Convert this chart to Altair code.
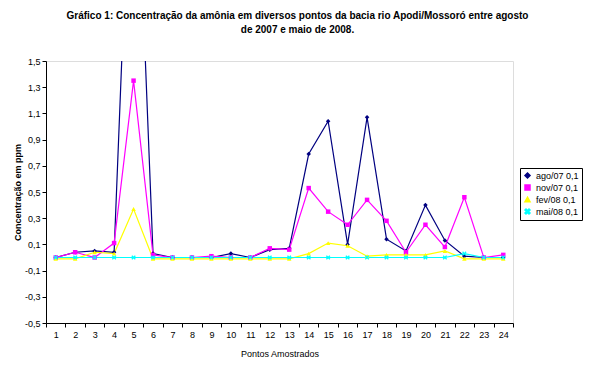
import altair as alt
import pandas as pd

pontos = list(range(1, 25))
ago07 = [0.0, 0.04, 0.05, 0.04, 3.77, 0.03, 0.0, 0.0, 0.0, 0.03, 0.0, 0.06,
         0.07, 0.79, 1.04, 0.10, 1.07, 0.14, 0.05, 0.40, 0.13, 0.01, 0.0, 0.0]
nov07 = [0.0, 0.04, 0.0, 0.11, 1.35, 0.02, 0.0, 0.0, 0.01, 0.0, 0.0, 0.07,
         0.06, 0.53, 0.35, 0.25, 0.44, 0.28, 0.04, 0.25, 0.08, 0.46, 0.0, 0.02]
fev08 = [-0.01, -0.01, 0.04, 0.03, 0.37, -0.01, -0.01, -0.01, -0.01, -0.01, -0.01, -0.01,
         -0.01, 0.03, 0.11, 0.09, 0.01, 0.02, 0.02, 0.02, 0.05, -0.01, -0.01, -0.01]
mai08 = [0.0, 0.0, 0.0, 0.0, 0.0, 0.0, 0.0, 0.0, 0.0, 0.0, 0.0, 0.0,
         0.0, 0.0, 0.0, 0.0, 0.0, 0.0, 0.0, 0.0, 0.0, 0.03, 0.0, 0.0]
series_names = ["ago/07 0,1", "nov/07 0,1", "fev/08 0,1", "mai/08 0,1"]
series_colors = ["#000080", "#FF00FF", "#FFFF00", "#00FFFF"]
x_cross = "M-1,-0.6L-0.6,-1L0,-0.4L0.6,-1L1,-0.6L0.4,0L1,0.6L0.6,1L0,0.4L-0.6,1L-1,0.6L-0.4,0Z"
series_shapes = ["diamond", "square", "triangle-up", x_cross]
y_ticks = [-0.5, -0.3, -0.1, 0.1, 0.3, 0.5, 0.7, 0.9, 1.1, 1.3, 1.5]

rows = []
for name, vals in zip(series_names, [ago07, nov07, fev08, mai08]):
    for p, v in zip(pontos, vals):
        rows.append({"ponto": p, "valor": v, "serie": name})
df = pd.DataFrame(rows)

FONT = "Liberation Sans"

x_enc = alt.X(
    "ponto:Q",
    scale=alt.Scale(domain=[0.5, 24.5], nice=False, zero=False),
    axis=alt.Axis(
        values=[i / 2 for i in range(1, 50)],
        labelExpr="datum.value % 1 === 0 ? datum.value : ''",
        tickOpacity={"condition": {"test": "datum.value % 1 !== 0", "value": 1}, "value": 0},
        grid=False, title="Pontos Amostrados", titleFontSize=9, titleFontWeight="normal",
        titlePadding=10, labelFontSize=9, labelFont=FONT, titleFont=FONT,
        labelColor="black", titleColor="black", domainColor="black", tickColor="black",
        tickSize=4, labelPadding=3, labelOverlap=False, labelFlush=False,
    ),
)
y_enc = alt.Y(
    "valor:Q",
    scale=alt.Scale(domain=[-0.5, 1.5], nice=False, zero=False),
    axis=alt.Axis(
        values=y_ticks,
        labelExpr="replace(replace(format(datum.value, '.1f'), '.', ','), '\u2212', '-')",
        grid=False, title="Concentração em ppm", titleFontSize=9, titleFontWeight="bold",
        labelFontSize=9, labelFont=FONT, titleFont=FONT, labelColor="black",
        titleColor="black", domainColor="black", tickColor="black", tickSize=4,
        labelPadding=2, titleX=-29, titleY=131, titleAlign="center", titleBaseline="middle",
    ),
)
color_scale = alt.Scale(domain=series_names, range=series_colors)
legend = alt.Legend(
    title=None, orient="none", legendX=474, legendY=107, strokeColor="black",
    fillColor="white", padding=3, labelFontSize=9, labelFont=FONT,
    labelColor="black", symbolSize=25, rowPadding=1, labelOffset=4)

lines = alt.Chart(df).mark_line(clip=True, strokeWidth=1.2).encode(
    x=x_enc, y=y_enc,
    color=alt.Color("serie:N", scale=color_scale, legend=legend),
    detail="serie:N",
)
points = alt.Chart(df).mark_point(clip=True, filled=True, size=20, opacity=1).encode(
    x=x_enc, y=y_enc,
    color=alt.Color("serie:N", scale=color_scale, legend=legend),
    shape=alt.Shape("serie:N", scale=alt.Scale(domain=series_names, range=series_shapes),
                    legend=legend),
)

chart = alt.layer(lines, points).properties(
    width=467, height=262,
    title=alt.TitleParams(
        text=["Gráfico 1: Concentração da amônia em diversos pontos da bacia  rio Apodi/Mossoró entre agosto",
              "de 2007 e maio de 2008."],
        fontSize=10, fontWeight="bold", font=FONT, color="black", anchor="middle",
        dx=18, offset=22, lineHeight=14,
    ),
    autosize=alt.AutoSizeParams(type="none"),
    padding={"left": 38, "top": 53, "right": 70, "bottom": 42},
).configure_view(fill="#C0C0C0", stroke="#808080").configure(background="white")

chart.save("out.html", embed_options={"renderer": "svg", "actions": False})
